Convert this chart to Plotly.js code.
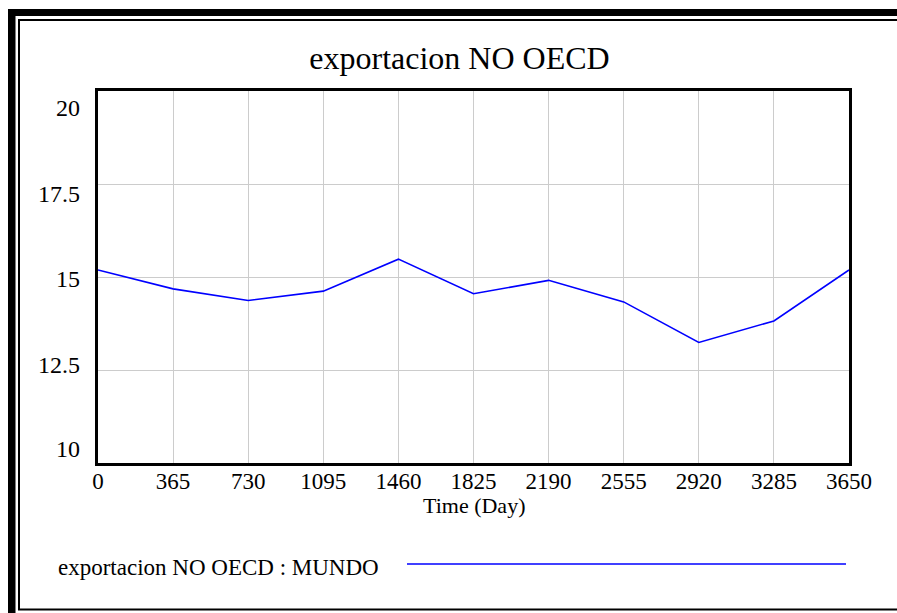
<!DOCTYPE html>
<html>
<head>
<meta charset="utf-8">
<script src="https://cdn.plot.ly/plotly-3.0.1.min.js"></script>
<style>
html,body{margin:0;padding:0;background:#fff;}
#chart{width:897px;height:613px;}
</style>
</head>
<body>
<div id="chart"></div>
<script>
// ---- data ----
const timeDays = [0, 365, 730, 1095, 1460, 1825, 2190, 2555, 2920, 3285, 3650];
const exportacionNoOecd = [15.19, 14.68, 14.37, 14.62, 15.48, 14.55, 14.91, 14.33, 13.24, 13.82, 15.19];
const xTickVals = [0, 365, 730, 1095, 1460, 1825, 2190, 2555, 2920, 3285, 3650];
const xTickLabels = ['0','365','730','1095','1460','1825','2190','2555','2920','3285','3650'];
const yTickVals = [10, 12.5, 15, 17.5, 20];
const yTickLabels = ['10','12.5','15','17.5','20'];
const seriesName = 'exportacion NO OECD : MUNDO';
const chartTitle = 'exportacion NO OECD';
const xTitle = 'Time (Day)';

// ---- layout geometry (pixels) ----
const W = 897, H = 613;
const L = 98, R = 849, T = 91, B = 463;
const px2x = p => (p - L) / (R - L);
const py2y = p => (B - p) / (B - T);
const FONT = 'Liberation Serif';

const shapes = [
  // thick outer frame bands
  {type:'rect', xref:'paper', yref:'paper', x0:px2x(8), x1:px2x(15.5), y0:py2y(620), y1:py2y(9), fillcolor:'#000', line:{width:0}},
  {type:'rect', xref:'paper', yref:'paper', x0:px2x(8), x1:px2x(905), y0:py2y(16), y1:py2y(9), fillcolor:'#000', line:{width:0}},
  // thin inner frame
  {type:'line', xref:'paper', yref:'paper', x0:px2x(19), x1:px2x(19), y0:py2y(609.5), y1:py2y(19.5), line:{color:'#000', width:2}},
  {type:'line', xref:'paper', yref:'paper', x0:px2x(18), x1:px2x(905), y0:py2y(20), y1:py2y(20), line:{color:'#000', width:2}},
  {type:'line', xref:'paper', yref:'paper', x0:px2x(18), x1:px2x(905), y0:py2y(609.5), y1:py2y(609.5), line:{color:'#000', width:2}},
  // legend line
  {type:'line', xref:'paper', yref:'paper', x0:px2x(407), x1:px2x(846), y0:py2y(564), y1:py2y(564), line:{color:'#0000ff', width:1.5}}
];

const yLabelCenters = [448, 363.5, 278, 192.5, 107];
const annotations = yTickLabels.map((t, i) => ({
  text: t, xref:'paper', yref:'paper', x: px2x(82), y: py2y(yLabelCenters[i] + 1),
  xanchor:'right', yanchor:'middle', showarrow:false,
  font:{family:FONT, size:24, color:'#000'}
}));
annotations.push({
  text: seriesName, xref:'paper', yref:'paper', x: px2x(56), y: py2y(567),
  xanchor:'left', yanchor:'middle', showarrow:false,
  font:{family:FONT, size:23, color:'#000'}
});
annotations.push({
  text: xTitle, xref:'paper', yref:'paper', x: 0.5, y: py2y(506),
  xanchor:'center', yanchor:'middle', showarrow:false,
  font:{family:FONT, size:22, color:'#000'}
});

const trace = {
  x: timeDays, y: exportacionNoOecd, type:'scatter', mode:'lines',
  name: seriesName, line:{color:'#0000ff', width:1.6}, showlegend:false
};

const layout = {
  width: W, height: H,
  margin:{l:L, r:W-R, t:T, b:H-B, pad:0},
  paper_bgcolor:'#fff', plot_bgcolor:'#fff',
  font:{family:FONT, size:22, color:'#000'},
  title:{text: chartTitle, font:{family:FONT, size:32, color:'#000'},
         x: 459.5 / W, xref:'container', xanchor:'center',
         y: 1 - 58 / H, yref:'container', yanchor:'middle'},
  xaxis:{range:[0, 3650], tickvals:xTickVals, ticktext:xTickLabels, ticks:'',
         showgrid:true, gridcolor:'#cccccc', gridwidth:1, zeroline:false,
         showline:true, linecolor:'#000', linewidth:3, mirror:true,
         ticklabelstandoff:-5,
         tickfont:{family:FONT, size:23, color:'#000'}},
  yaxis:{range:[10, 20], tickvals:yTickVals, showticklabels:false, ticks:'',
         showgrid:true, gridcolor:'#cccccc', gridwidth:1, zeroline:false,
         showline:true, linecolor:'#000', linewidth:3, mirror:true},
  shapes: shapes,
  annotations: annotations,
  showlegend:false
};

Plotly.newPlot('chart', [trace], layout, {displayModeBar:false, staticPlot:true});
</script>
</body>
</html>
